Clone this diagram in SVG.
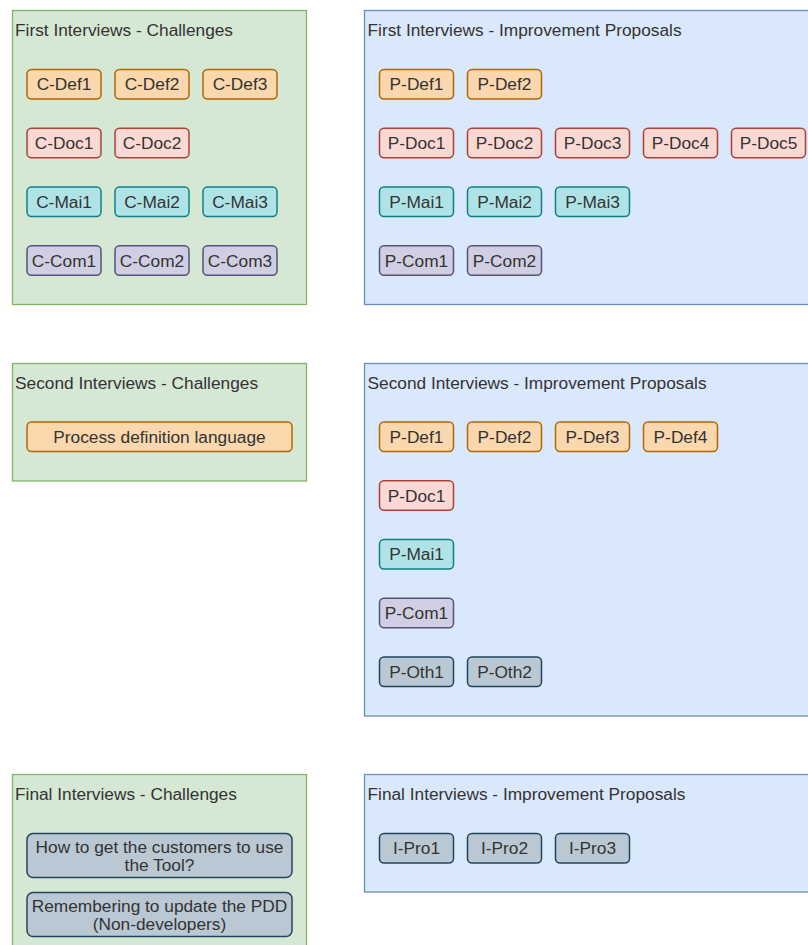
<svg xmlns="http://www.w3.org/2000/svg" width="808" height="945" viewBox="0 0 808 945">
<style>
text{font-family:"Liberation Sans",Arial,Helvetica,sans-serif;font-size:17.3px;fill:#333333}
.t{text-anchor:start}
.c{text-anchor:middle}
.gc{fill:#d5e8d4;stroke:#82b366;stroke-width:1.3}
.bc{fill:#dae8fc;stroke:#6c8ebf;stroke-width:1.3}
.n{stroke-width:1.5}
.def{fill:#fad7ac;stroke:#b46504}
.doc{fill:#fad9d5;stroke:#ae4132}
.mai{fill:#b0e3e6;stroke:#0e8088}
.com{fill:#d0cee2;stroke:#56517e}
.oth{fill:#bac8d3;stroke:#23445d}
</style>
<rect width="808" height="945" fill="#ffffff"/>

<!-- Containers -->
<g id="first-challenges">
<rect class="gc" x="12.5" y="10.5" width="294" height="294"/>
<text class="t" x="15" y="36">First Interviews - Challenges</text>
</g>
<g id="first-proposals">
<rect class="bc" x="364.5" y="10.5" width="460" height="294"/>
<text class="t" x="367.5" y="36">First Interviews - Improvement Proposals</text>
</g>
<g id="second-challenges">
<rect class="gc" x="12.5" y="363.5" width="294" height="117.5"/>
<text class="t" x="15" y="389">Second Interviews - Challenges</text>
</g>
<g id="second-proposals">
<rect class="bc" x="364.5" y="363.5" width="460" height="352.5"/>
<text class="t" x="367.5" y="389">Second Interviews - Improvement Proposals</text>
</g>
<g id="final-challenges">
<rect class="gc" x="12.5" y="774.5" width="294" height="200"/>
<text class="t" x="15" y="800">Final Interviews - Challenges</text>
</g>
<g id="final-proposals">
<rect class="bc" x="364.5" y="774.5" width="460" height="117.5"/>
<text class="t" x="367.5" y="800">Final Interviews - Improvement Proposals</text>
</g>

<!-- First interviews - challenges nodes -->
<g id="c-def1"><rect class="n def" x="27" y="69.5" width="74" height="29.5" rx="4.5"/><text class="c" x="64" y="90.3">C-Def1</text></g>
<g id="c-def2"><rect class="n def" x="115" y="69.5" width="74" height="29.5" rx="4.5"/><text class="c" x="152" y="90.3">C-Def2</text></g>
<g id="c-def3"><rect class="n def" x="203" y="69.5" width="74" height="29.5" rx="4.5"/><text class="c" x="240" y="90.3">C-Def3</text></g>
<g id="c-doc1"><rect class="n doc" x="27" y="128.2" width="74" height="29.5" rx="4.5"/><text class="c" x="64" y="149">C-Doc1</text></g>
<g id="c-doc2"><rect class="n doc" x="115" y="128.2" width="74" height="29.5" rx="4.5"/><text class="c" x="152" y="149">C-Doc2</text></g>
<g id="c-mai1"><rect class="n mai" x="27" y="187" width="74" height="29.5" rx="4.5"/><text class="c" x="64" y="207.8">C-Mai1</text></g>
<g id="c-mai2"><rect class="n mai" x="115" y="187" width="74" height="29.5" rx="4.5"/><text class="c" x="152" y="207.8">C-Mai2</text></g>
<g id="c-mai3"><rect class="n mai" x="203" y="187" width="74" height="29.5" rx="4.5"/><text class="c" x="240" y="207.8">C-Mai3</text></g>
<g id="c-com1"><rect class="n com" x="27" y="245.7" width="74" height="29.5" rx="4.5"/><text class="c" x="64" y="266.5">C-Com1</text></g>
<g id="c-com2"><rect class="n com" x="115" y="245.7" width="74" height="29.5" rx="4.5"/><text class="c" x="152" y="266.5">C-Com2</text></g>
<g id="c-com3"><rect class="n com" x="203" y="245.7" width="74" height="29.5" rx="4.5"/><text class="c" x="240" y="266.5">C-Com3</text></g>

<!-- First interviews - proposals nodes -->
<g id="p1-def1"><rect class="n def" x="379.5" y="69.5" width="74" height="29.5" rx="4.5"/><text class="c" x="416.5" y="90.3">P-Def1</text></g>
<g id="p1-def2"><rect class="n def" x="467.5" y="69.5" width="74" height="29.5" rx="4.5"/><text class="c" x="504.5" y="90.3">P-Def2</text></g>
<g id="p1-doc1"><rect class="n doc" x="379.5" y="128.2" width="74" height="29.5" rx="4.5"/><text class="c" x="416.5" y="149">P-Doc1</text></g>
<g id="p1-doc2"><rect class="n doc" x="467.5" y="128.2" width="74" height="29.5" rx="4.5"/><text class="c" x="504.5" y="149">P-Doc2</text></g>
<g id="p1-doc3"><rect class="n doc" x="555.5" y="128.2" width="74" height="29.5" rx="4.5"/><text class="c" x="592.5" y="149">P-Doc3</text></g>
<g id="p1-doc4"><rect class="n doc" x="643.5" y="128.2" width="74" height="29.5" rx="4.5"/><text class="c" x="680.5" y="149">P-Doc4</text></g>
<g id="p1-doc5"><rect class="n doc" x="731.5" y="128.2" width="74" height="29.5" rx="4.5"/><text class="c" x="768.5" y="149">P-Doc5</text></g>
<g id="p1-mai1"><rect class="n mai" x="379.5" y="187" width="74" height="29.5" rx="4.5"/><text class="c" x="416.5" y="207.8">P-Mai1</text></g>
<g id="p1-mai2"><rect class="n mai" x="467.5" y="187" width="74" height="29.5" rx="4.5"/><text class="c" x="504.5" y="207.8">P-Mai2</text></g>
<g id="p1-mai3"><rect class="n mai" x="555.5" y="187" width="74" height="29.5" rx="4.5"/><text class="c" x="592.5" y="207.8">P-Mai3</text></g>
<g id="p1-com1"><rect class="n com" x="379.5" y="245.7" width="74" height="29.5" rx="4.5"/><text class="c" x="416.5" y="266.5">P-Com1</text></g>
<g id="p1-com2"><rect class="n com" x="467.5" y="245.7" width="74" height="29.5" rx="4.5"/><text class="c" x="504.5" y="266.5">P-Com2</text></g>

<!-- Second interviews -->
<g id="c2-pdl"><rect class="n def" x="27" y="422" width="265" height="29.5" rx="4.5"/><text class="c" x="159.5" y="442.8">Process definition language</text></g>

<g id="p2-def1"><rect class="n def" x="379.5" y="422" width="74" height="29.5" rx="4.5"/><text class="c" x="416.5" y="442.8">P-Def1</text></g>
<g id="p2-def2"><rect class="n def" x="467.5" y="422" width="74" height="29.5" rx="4.5"/><text class="c" x="504.5" y="442.8">P-Def2</text></g>
<g id="p2-def3"><rect class="n def" x="555.5" y="422" width="74" height="29.5" rx="4.5"/><text class="c" x="592.5" y="442.8">P-Def3</text></g>
<g id="p2-def4"><rect class="n def" x="643.5" y="422" width="74" height="29.5" rx="4.5"/><text class="c" x="680.5" y="442.8">P-Def4</text></g>
<g id="p2-doc1"><rect class="n doc" x="379.5" y="480.8" width="74" height="29.5" rx="4.5"/><text class="c" x="416.5" y="501.6">P-Doc1</text></g>
<g id="p2-mai1"><rect class="n mai" x="379.5" y="539.5" width="74" height="29.5" rx="4.5"/><text class="c" x="416.5" y="560.3">P-Mai1</text></g>
<g id="p2-com1"><rect class="n com" x="379.5" y="598.2" width="74" height="29.5" rx="4.5"/><text class="c" x="416.5" y="619">P-Com1</text></g>
<g id="p2-oth1"><rect class="n oth" x="379.5" y="657" width="74" height="29.5" rx="4.5"/><text class="c" x="416.5" y="677.8">P-Oth1</text></g>
<g id="p2-oth2"><rect class="n oth" x="467.5" y="657" width="74" height="29.5" rx="4.5"/><text class="c" x="504.5" y="677.8">P-Oth2</text></g>

<!-- Final interviews -->
<g id="c3-customers"><rect class="n oth" x="27" y="833.5" width="265" height="44" rx="6"/><text class="c" x="159.5" y="852.5">How to get the customers to use</text><text class="c" x="159.5" y="871">the Tool?</text></g>
<g id="c3-remember"><rect class="n oth" x="27" y="892.5" width="265" height="44" rx="6"/><text class="c" x="159.5" y="911.5">Remembering to update the PDD</text><text class="c" x="159.5" y="930">(Non-developers)</text></g>

<g id="i-pro1"><rect class="n oth" x="379.5" y="833.5" width="74" height="29.5" rx="4.5"/><text class="c" x="416.5" y="854.3">I-Pro1</text></g>
<g id="i-pro2"><rect class="n oth" x="467.5" y="833.5" width="74" height="29.5" rx="4.5"/><text class="c" x="504.5" y="854.3">I-Pro2</text></g>
<g id="i-pro3"><rect class="n oth" x="555.5" y="833.5" width="74" height="29.5" rx="4.5"/><text class="c" x="592.5" y="854.3">I-Pro3</text></g>

<g id="connectors"></g>
</svg>
